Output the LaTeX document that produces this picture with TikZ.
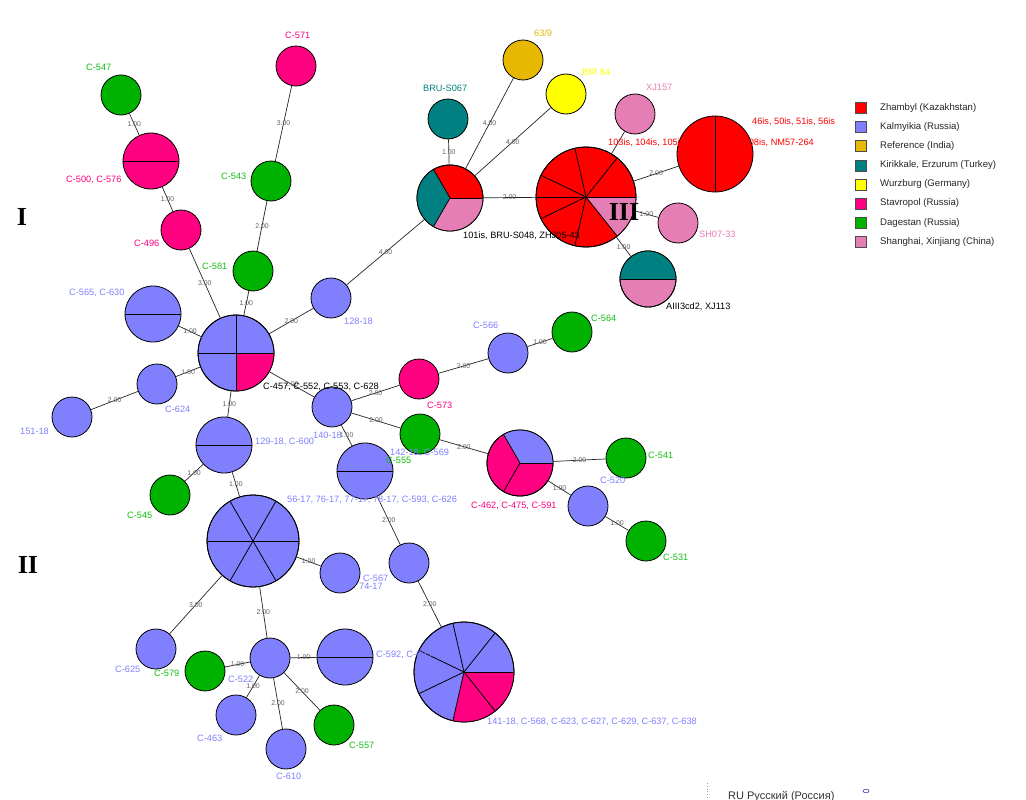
\documentclass[tikz,border=0pt]{standalone}
\usepackage{fontspec}
\setmainfont{Liberation Sans}
\newfontfamily\numfont{Liberation Serif}
\usetikzlibrary{calc}
\definecolor{zha}{RGB}{255,0,0}
\definecolor{kal}{RGB}{128,128,255}
\definecolor{refc}{RGB}{230,184,0}
\definecolor{tur}{RGB}{0,128,128}
\definecolor{wur}{RGB}{255,255,0}
\definecolor{stv}{RGB}{255,0,128}
\definecolor{dag}{RGB}{0,178,0}
\definecolor{chn}{RGB}{229,126,180}
\definecolor{dagt}{RGB}{20,190,20}
\newcommand\pieW[5]{\fill[#5] (#1.center) -- ++(#2:#4) arc[start angle=#2,end angle=#3,radius=#4] -- cycle;}
\newcommand\pieL[3]{\draw[line width=0.8pt] (#1.center) -- ++(#2:#3);}
\newcommand\rim[2]{\draw[line width=0.8pt] (#1.center) circle[radius=#2];}
\newcommand\lnk[3]{\draw[edge] (#1) -- (#2) node[wt,midway]{#3};}
\begin{document}
\begin{tikzpicture}[x=1pt,y=1pt,
 hap/.style={circle,draw=black,line width=0.8pt,inner sep=0pt,minimum size=40pt},
 edge/.style={line width=0.7pt,draw=black!85},
 wt/.style={font=\fontsize{6.9}{7.5}\selectfont,text=black!62,inner sep=0.5pt},
 lbl/.style={anchor=west,inner sep=0pt,font=\fontsize{9.2}{10}\selectfont},
 leg/.style={anchor=west,inner sep=0pt,font=\fontsize{9.6}{11}\selectfont,text=black!85},
 legbox/.style={draw=black!70,line width=0.6pt,minimum size=11pt,inner sep=0pt},
 roman/.style={font=\numfont\bfseries\fontsize{26}{28}\selectfont,inner sep=0pt}]
\useasboundingbox (0,0) rectangle (1026,-800);
\fill[white] (0,0) rectangle (1026,-800);

% ---- single haplotype nodes
\node[hap,fill=dag] (c547) at (121,-95) {};
\node[hap,fill=stv] (c496) at (181,-230) {};
\node[hap,fill=stv] (c571) at (296,-66) {};
\node[hap,fill=dag] (c543) at (271,-181) {};
\node[hap,fill=dag] (c581) at (253,-271) {};
\node[hap,fill=kal] (c624) at (157,-384) {};
\node[hap,fill=kal] (n151) at (72,-417) {};
\node[hap,fill=kal] (n128) at (331,-298) {};
\node[hap,fill=dag] (c545) at (170,-495) {};
\node[hap,fill=kal] (c567) at (340,-573) {};
\node[hap,fill=kal] (c625) at (156,-649) {};
\node[hap,fill=dag] (c579) at (205,-671) {};
\node[hap,fill=kal] (c522) at (270,-658) {};
\node[hap,fill=kal] (c463) at (236,-715) {};
\node[hap,fill=kal] (c610) at (286,-749) {};
\node[hap,fill=dag] (c557) at (334,-725) {};
\node[hap,fill=kal] (n140) at (332,-407) {};
\node[hap,fill=stv] (c573) at (419,-379) {};
\node[hap,fill=kal] (c566) at (508,-353) {};
\node[hap,fill=dag] (c564) at (572,-332) {};
\node[hap,fill=dag] (grn) at (420,-434) {};
\node[hap,fill=kal] (mid) at (409,-563) {};
\node[hap,fill=dag] (c541) at (626,-458) {};
\node[hap,fill=kal] (c520) at (588,-506) {};
\node[hap,fill=dag] (c531) at (646,-541) {};
\node[hap,fill=tur] (bru) at (448,-119) {};
\node[hap,fill=refc] (g639) at (523,-60) {};
\node[hap,fill=wur] (bfr) at (566,-94) {};
\node[hap,fill=chn] (xj157) at (635,-114) {};
\node[hap,fill=chn] (sh07) at (678,-223) {};

% ---- two-member nodes (split)
\node[hap,minimum size=56pt,fill=stv] (c500) at (151,-161) {};
\draw[line width=0.8pt] (c500.west) -- (c500.east);
\node[hap,minimum size=56pt,fill=kal] (c565) at (153,-314) {};
\draw[line width=0.8pt] (c565.west) -- (c565.east);
\node[hap,minimum size=56pt,fill=kal] (n129) at (224,-445) {};
\draw[line width=0.8pt] (n129.west) -- (n129.east);
\node[hap,minimum size=56pt,fill=kal] (c592) at (345,-657) {};
\draw[line width=0.8pt] (c592.west) -- (c592.east);
\node[hap,minimum size=56pt,fill=kal] (spl) at (365,-471) {};
\draw[line width=0.8pt] (spl.west) -- (spl.east);
\node[hap,minimum size=56pt,fill=chn] (aiii) at (648,-279) {};
\pieW{aiii}{0}{180}{28pt}{tur}
\pieL{aiii}{0}{28pt}\pieL{aiii}{180}{28pt}
\rim{aiii}{28pt}
\node[hap,minimum size=76pt,fill=zha] (rspl) at (715,-154) {};
\draw[line width=0.8pt] (rspl.north) -- (rspl.south);

% ---- hub (4)
\node[hap,minimum size=76pt,fill=kal] (h1) at (236,-353) {};
\pieW{h1}{270}{360}{38pt}{stv}
\foreach \a in {0,90,180,270} {\pieL{h1}{\a}{38pt}}
\rim{h1}{38pt}

% ---- hexagon node (6)
\node[hap,minimum size=92pt,fill=kal] (hex) at (253,-541) {};
\foreach \a in {0,60,120,180,240,300} {\pieL{hex}{\a}{46pt}}
\rim{hex}{46pt}

% ---- 7-member blue/pink node
\node[hap,minimum size=100pt,fill=kal] (b141) at (464,-672) {};
\pieW{b141}{257.14}{360}{50pt}{stv}
\foreach \a in {0,51.43,102.86,154.29,205.71,257.14,308.57} {\pieL{b141}{\a}{50pt}}
\rim{b141}{50pt}

% ---- pink tri node
\node[hap,minimum size=66pt,fill=stv] (ptri) at (520,-463) {};
\pieW{ptri}{0}{120}{33pt}{kal}
\foreach \a in {0,120,240} {\pieL{ptri}{\a}{33pt}}
\rim{ptri}{33pt}

% ---- top tri node
\node[hap,minimum size=66pt,fill=zha] (tri) at (450,-198) {};
\pieW{tri}{120}{240}{33pt}{tur}
\pieW{tri}{240}{360}{33pt}{chn}
\foreach \a in {0,120,240} {\pieL{tri}{\a}{33pt}}
\rim{tri}{33pt}

% ---- big red node
\node[hap,minimum size=100pt,fill=zha] (rd7) at (586,-197) {};
\pieW{rd7}{-51.43}{0}{50pt}{chn}
\foreach \a in {0,51.43,102.86,154.29,180,205.71,257.14,308.57} {\pieL{rd7}{\a}{50pt}}
\rim{rd7}{50pt}

% ---- edges
\lnk{c547}{c500}{1.00}
\lnk{c500}{c496}{1.00}
\lnk{c496}{h1}{3.00}
\lnk{c571}{c543}{3.00}
\lnk{c543}{c581}{2.00}
\lnk{c581}{h1}{1.00}
\lnk{c565}{h1}{1.00}
\lnk{c624}{h1}{1.00}
\lnk{n151}{c624}{2.00}
\lnk{h1}{n128}{2.00}
\lnk{n128}{tri}{4.00}
\lnk{h1}{n140}{2.00}
\lnk{h1}{n129}{1.00}
\lnk{n140}{c573}{2.00}
\lnk{c573}{c566}{2.00}
\lnk{c566}{c564}{1.00}
\lnk{n140}{grn}{2.00}
\lnk{n140}{spl}{1.00}
\lnk{grn}{ptri}{2.00}
\lnk{ptri}{c541}{2.00}
\lnk{ptri}{c520}{1.00}
\lnk{c520}{c531}{1.00}
\lnk{n129}{c545}{1.00}
\lnk{n129}{hex}{1.00}
\lnk{spl}{mid}{2.00}
\lnk{mid}{b141}{2.00}
\lnk{hex}{c567}{1.00}
\lnk{hex}{c625}{3.00}
\lnk{hex}{c522}{2.00}
\lnk{c522}{c579}{1.00}
\lnk{c522}{c592}{1.00}
\lnk{c522}{c463}{1.00}
\lnk{c522}{c610}{2.00}
\lnk{c522}{c557}{2.00}
\lnk{tri}{bru}{1.00}
\lnk{tri}{g639}{4.00}
\lnk{tri}{bfr}{4.00}
\lnk{tri}{rd7}{2.00}
\draw[edge] (rd7) -- (xj157);
\lnk{rd7}{rspl}{2.00}
\lnk{rd7}{sh07}{1.00}
\lnk{rd7}{aiii}{1.00}

% ---- labels
\node[lbl,text=dagt] (t547) at (86,-67) {C-547};
\node[lbl,text=stv] (t571) at (285,-35) {C-571};
\node[lbl,text=stv] (t500) at (66,-180) {C-500, C-576};
\node[lbl,text=dagt] (t543) at (221,-176) {C-543};
\node[lbl,text=stv] (t496) at (134,-243) {C-496};
\node[lbl,text=dagt] (t581) at (202,-266) {C-581};
\node[lbl,text=kal] (t565) at (69,-293) {C-565, C-630};
\node[lbl,text=kal] (t624) at (165,-409) {C-624};
\node[lbl,text=kal] (t151) at (20,-431) {151-18};
\node[lbl,text=kal] (t128) at (344,-321) {128-18};
\node[lbl,text=black] (th1) at (263,-387) {C-457, C-552, C-553, C-628};
\node[lbl,text=kal] (t129) at (255,-442) {129-18, C-600};
\node[lbl,text=kal] (t140) at (313,-435) {140-18};
\node[lbl,text=stv] (t573) at (427,-405) {C-573};
\node[lbl,text=kal] (t566) at (473,-325) {C-566};
\node[lbl,text=dagt] (t564) at (591,-318) {C-564};
\node[lbl,text=kal] (t142) at (390,-453) {142-18, C-569};
\node[lbl,text=dagt] (t555) at (386,-460) {C-555};
\node[lbl,text=kal] (thex) at (287,-500) {56-17, 76-17, 77-17, 78-17, C-593, C-626};
\node[lbl,text=stv] (tptri) at (471,-506) {C-462, C-475, C-591};
\node[lbl,text=dagt] (t541) at (648,-455) {C-541};
\node[lbl,text=kal] (t520) at (600,-480) {C-520};
\node[lbl,text=dagt] (t531) at (663,-557) {C-531};
\node[lbl,text=dagt] (t545) at (127,-515) {C-545};
\node[lbl,text=kal] (t567) at (363,-578) {C-567};
\node[lbl,text=kal] (t7417) at (359,-586) {74-17};
\node[lbl,text=kal] (t625) at (115,-669) {C-625};
\node[lbl,text=dagt] (t579) at (154,-673) {C-579};
\node[lbl,text=kal] (t522) at (228,-679) {C-522};
\node[lbl,text=kal] (t592) at (376,-655) {C-592, C-605};
\node[lbl,text=kal] (t463) at (197,-738) {C-463};
\node[lbl,text=kal] (t610) at (276,-776) {C-610};
\node[lbl,text=dagt] (t557) at (349,-745) {C-557};
\node[lbl,text=kal] (t141) at (487,-722) {141-18, C-568, C-623, C-627, C-629, C-637, C-638};
\node[lbl,text=tur] (tbru) at (423,-88) {BRU-S067};
\node[lbl,text=refc] (t639) at (534,-33) {63/9};
\node[lbl,text=wur] (tbfr) at (582,-72) {BfR 84};
\node[lbl,text=black] (ttri) at (463,-236) {101is, BRU-S048, ZHJ05-43};
\node[lbl,text=chn] (txj) at (646,-87) {XJ157};
\node[lbl,text=zha] (trd7) at (608,-143) {103is, 104is, 105is, 106is, 107is, 108is, NM57-264};
\node[lbl,text=zha] (trspl) at (752,-122) {46is, 50is, 51is, 56is};
\node[lbl,text=chn] (tsh) at (699,-234) {SH07-33};
\node[lbl,text=black] (taiii) at (666,-307) {AIII3cd2, XJ113};

% ---- group numerals
\node[roman] (rI) at (22,-217) {I};
\node[roman] (rII) at (28,-565) {II};
\node[roman] (rIII) at (624,-212) {III};

% ---- legend
\foreach \c/\t [count=\i from 0] in {zha/Zhambyl (Kazakhstan),kal/Kalmyikia (Russia),refc/Reference (India),tur/{Kirikkale, Erzurum (Turkey)},wur/Wurzburg (Germany),stv/Stavropol (Russia),dag/Dagestan (Russia),chn/{Shanghai, Xinjiang (China)}} {
  \node[legbox,fill=\c] (lb\i) at (861,-108-19.1*\i) {};
  \node[leg] (lt\i) at (880,-108-19.1*\i) {\t};
}

% ---- screenshot remnants at the bottom
\draw[black!40,dotted,line width=0.8pt] (707,-783) -- (707,-800);
\node[anchor=base west,inner sep=0pt,font=\fontsize{11}{12}\selectfont,text=black!80] (ru) at (728,-799) {RU Русский (Россия)};
\draw[blue!50!gray,line width=0.6pt] (866,-791) ellipse[x radius=3pt,y radius=1.8pt];
\end{tikzpicture}
\end{document}
